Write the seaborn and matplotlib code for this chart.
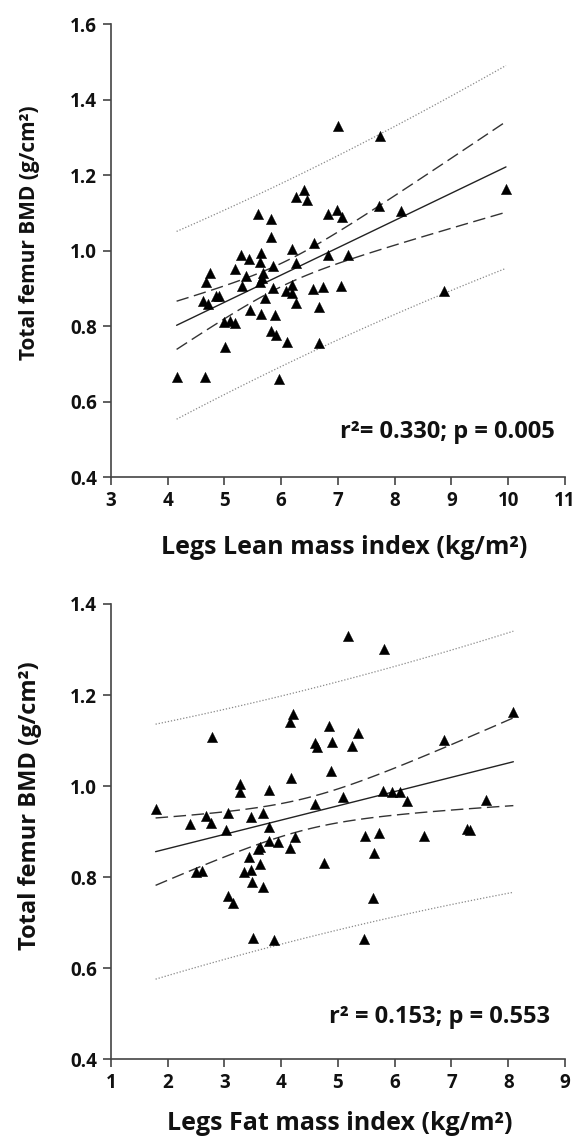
import numpy as np
import pandas as pd
import matplotlib
matplotlib.use("Agg")
import matplotlib.pyplot as plt
import seaborn as sns

# ---- data ----
lean_x = [4.16, 4.66, 5.97, 5.02, 6.10, 6.67, 7.01, 7.74, 9.96, 8.86,
          6.40, 6.27, 6.46, 5.60, 5.83, 5.83, 6.82, 6.99, 7.08, 7.72,
          8.11, 6.58, 6.20, 6.82, 7.17, 5.29, 5.44, 5.65, 5.63, 6.27,
          5.85, 4.75, 5.19, 4.68, 5.38, 5.69, 5.66, 5.62, 5.31, 5.85,
          6.20, 6.57, 6.73, 7.05, 4.85, 4.91, 4.63, 4.72, 5.72, 6.09,
          6.20, 6.27, 6.67, 5.46, 5.64, 5.90, 4.99, 5.10, 5.18, 5.83,
          5.91]
lean_y = [0.665, 0.665, 0.661, 0.744, 0.757, 0.755, 1.331, 1.304, 1.163, 0.892,
          1.161, 1.141, 1.133, 1.097, 1.084, 1.035, 1.097, 1.108, 1.089, 1.117,
          1.104, 1.020, 1.004, 0.989, 0.989, 0.989, 0.978, 0.993, 0.971, 0.968,
          0.960, 0.940, 0.951, 0.918, 0.933, 0.940, 0.927, 0.916, 0.907, 0.902,
          0.908, 0.898, 0.903, 0.907, 0.880, 0.880, 0.867, 0.858, 0.876, 0.892,
          0.889, 0.862, 0.852, 0.843, 0.832, 0.830, 0.812, 0.814, 0.809, 0.788,
          0.777]

fat_x = [1.79, 2.40, 2.68, 2.77, 2.78, 2.51, 2.60, 3.07, 3.03, 3.28,
         3.27, 3.07, 3.16, 3.47, 3.69, 3.78, 3.79, 3.44, 3.35, 3.47,
         3.63, 3.60, 3.63, 3.78, 3.94, 3.48, 3.69, 3.51, 3.87, 4.16,
         4.21, 4.17, 4.16, 4.24, 4.59, 4.60, 4.63, 4.85, 4.89, 4.88,
         4.76, 5.09, 5.18, 5.36, 5.25, 5.81, 5.80, 5.96, 6.09, 6.22,
         5.48, 5.73, 5.64, 5.61, 5.46, 6.52, 6.86, 7.28, 7.33, 7.60,
         8.09]
fat_y = [0.949, 0.916, 0.934, 0.918, 1.107, 0.811, 0.814, 0.942, 0.904, 1.005,
         0.988, 0.759, 0.744, 0.933, 0.941, 0.992, 0.910, 0.845, 0.812, 0.815,
         0.829, 0.861, 0.867, 0.880, 0.878, 0.789, 0.778, 0.666, 0.662, 1.140,
         1.159, 1.018, 0.865, 0.889, 0.960, 1.094, 1.085, 1.131, 1.096, 1.034,
         0.832, 0.976, 1.329, 1.116, 1.087, 1.301, 0.990, 0.988, 0.988, 0.968,
         0.891, 0.897, 0.853, 0.754, 0.665, 0.891, 1.102, 0.905, 0.904, 0.970,
         1.162]

top_xticks = [3, 4, 5, 6, 7, 8, 9, 10, 11]
top_yticks = [0.4, 0.6, 0.8, 1.0, 1.2, 1.4, 1.6]
bot_xticks = [1, 2, 3, 4, 5, 6, 7, 8, 9]
bot_yticks = [0.4, 0.6, 0.8, 1.0, 1.2, 1.4]

ylabel = "Total femur BMD (g/cm²)"
top_xlabel = "Legs Lean mass index (kg/m²)"
bot_xlabel = "Legs Fat mass index (kg/m²)"
top_note = "r²= 0.330; p = 0.005"
bot_note = "r² = 0.153; p = 0.553"

sns.set_theme(style="ticks")
plt.rcParams["font.family"] = ["Open Sans", "DejaVu Sans"]
plt.rcParams["font.weight"] = "bold"

fig = plt.figure(figsize=(5.8, 11.4), dpi=100)
ax1 = fig.add_axes([0.1909, 0.5813, 0.7833, 0.3976])
ax2 = fig.add_axes([0.1909, 0.0708, 0.7833, 0.3994])

T975 = 2.0


def draw(ax, xs, ys, xticks, yticks, xlabel, note, note_xy,
         xlab_xy, ylab_xy, ylab_size):
    df = pd.DataFrame({"x": xs, "y": ys})
    x = df["x"].to_numpy()
    y = df["y"].to_numpy()
    n = len(x)
    b, a = np.polyfit(x, y, 1)
    resid = y - (a + b * x)
    s = np.sqrt(np.sum(resid ** 2) / (n - 2))
    xbar = x.mean()
    sxx = np.sum((x - xbar) ** 2)
    grid = np.linspace(x.min(), x.max(), 100)
    fit = a + b * grid
    se_m = s * np.sqrt(1 / n + (grid - xbar) ** 2 / sxx)
    se_p = s * np.sqrt(1 + 1 / n + (grid - xbar) ** 2 / sxx)
    lines = pd.DataFrame({"x": grid, "fit": fit,
                          "clo": fit - T975 * se_m, "chi": fit + T975 * se_m,
                          "plo": fit - T975 * se_p, "phi": fit + T975 * se_p})
    ax.plot(lines["x"], lines["fit"], color="#222222", lw=1.0)
    for c in ("clo", "chi"):
        ax.plot(lines["x"], lines[c], color="#333333", lw=1.0,
                linestyle=(0, (9, 4)))
    for c in ("plo", "phi"):
        ax.plot(lines["x"], lines[c], color="#888888", lw=0.9,
                linestyle=(0, (1, 1.5)))
    sns.scatterplot(data=df, x="x", y="y", marker="^", s=55, color="black",
                    edgecolor="black", linewidth=0.3, ax=ax, zorder=3)
    ax.set_xlim(xticks[0], xticks[-1])
    ax.set_ylim(yticks[0], yticks[-1])
    ax.set_xticks(xticks)
    ax.set_yticks(yticks)
    ax.set_xticklabels([str(t) for t in xticks])
    ax.set_yticklabels([f"{t:.1f}" for t in yticks])
    ax.tick_params(axis="both", labelsize=13.5, length=6, width=1.2,
                   color="#444444", labelcolor="#111111", pad=4)
    for lab in ax.get_xticklabels() + ax.get_yticklabels():
        lab.set_fontweight("bold")
    for sp in ("top", "right"):
        ax.spines[sp].set_visible(False)
    for sp in ("left", "bottom"):
        ax.spines[sp].set_color("#444444")
        ax.spines[sp].set_linewidth(1.2)
    ax.set_xlabel(xlabel, fontsize=18, fontweight="bold", color="#111111",
                  va="center")
    ax.xaxis.set_label_coords(*xlab_xy)
    ax.set_ylabel(ylabel, fontsize=ylab_size, fontweight="bold",
                  color="#111111", va="center")
    ax.yaxis.set_label_coords(*ylab_xy)
    ax.text(note_xy[0], note_xy[1], note, transform=ax.transAxes,
            ha="right", va="center", fontsize=17, fontweight="bold",
            color="#111111")


draw(ax1, lean_x, lean_y, top_xticks, top_yticks, top_xlabel, top_note,
     (0.978, 0.10), (0.514, -0.154), (-0.178, 0.539), 15)
draw(ax2, fat_x, fat_y, bot_xticks, bot_yticks, bot_xlabel, bot_note,
     (0.967, 0.093), (0.505, -0.14), (-0.178, 0.558), 17)

fig.savefig("out.png", dpi=100)
